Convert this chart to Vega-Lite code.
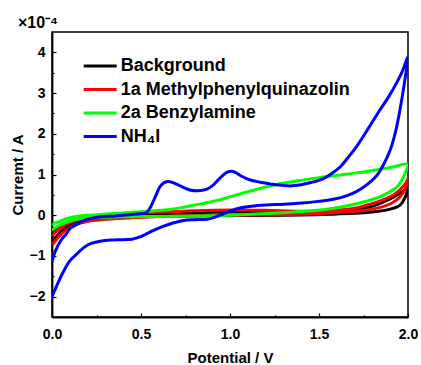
{
  "$schema": "https://vega.github.io/schema/vega-lite/v6.json",
  "width": 356,
  "height": 285,
  "autosize": "none",
  "padding": {"left": 52, "top": 32, "right": 13, "bottom": 48},
  "background": "white",
  "title": {"text": "×10⁻⁴", "anchor": "start", "frame": "group", "align": "right", "dx": 6, "offset": 1, "font": "Liberation Sans", "fontSize": 16, "fontWeight": "bold", "color": "black"},
  "config": {
    "view": {"stroke": "black", "strokeWidth": 1.5},
    "font": "Liberation Sans"
  },
  "datasets": {
    "cv": [
      {"s":"Background","k":1,"v":0.0,"i":-0.45},{"s":"Background","k":2,"v":0.05,"i":-0.3},{"s":"Background","k":3,"v":0.1,"i":-0.2},{"s":"Background","k":4,"v":0.2,"i":-0.1},{"s":"Background","k":5,"v":0.4,"i":-0.02},{"s":"Background","k":6,"v":0.7,"i":0.05},{"s":"Background","k":7,"v":1.0,"i":0.08},{"s":"Background","k":8,"v":1.3,"i":0.08},{"s":"Background","k":9,"v":1.55,"i":0.09},{"s":"Background","k":10,"v":1.7,"i":0.13},{"s":"Background","k":11,"v":1.8,"i":0.22},{"s":"Background","k":12,"v":1.86,"i":0.32},{"s":"Background","k":13,"v":1.92,"i":0.45},{"s":"Background","k":14,"v":1.97,"i":0.58},{"s":"Background","k":15,"v":2.0,"i":0.68},
      {"s":"Background","k":16,"v":1.985,"i":0.45},{"s":"Background","k":17,"v":1.955,"i":0.25},{"s":"Background","k":18,"v":1.9,"i":0.15},{"s":"Background","k":19,"v":1.8,"i":0.08},{"s":"Background","k":20,"v":1.6,"i":0.03},{"s":"Background","k":21,"v":1.3,"i":0.0},{"s":"Background","k":22,"v":1.0,"i":-0.01},{"s":"Background","k":23,"v":0.7,"i":-0.02},{"s":"Background","k":24,"v":0.45,"i":-0.05},{"s":"Background","k":25,"v":0.3,"i":-0.09},{"s":"Background","k":26,"v":0.2,"i":-0.14},{"s":"Background","k":27,"v":0.12,"i":-0.24},{"s":"Background","k":28,"v":0.07,"i":-0.34},{"s":"Background","k":29,"v":0.03,"i":-0.5},{"s":"Background","k":30,"v":0.0,"i":-0.68},

      {"s":"1a Methylphenylquinazolin","k":1,"v":0.0,"i":-0.5},{"s":"1a Methylphenylquinazolin","k":2,"v":0.03,"i":-0.38},{"s":"1a Methylphenylquinazolin","k":3,"v":0.07,"i":-0.25},{"s":"1a Methylphenylquinazolin","k":4,"v":0.12,"i":-0.15},{"s":"1a Methylphenylquinazolin","k":5,"v":0.2,"i":-0.08},{"s":"1a Methylphenylquinazolin","k":6,"v":0.3,"i":-0.04},{"s":"1a Methylphenylquinazolin","k":7,"v":0.45,"i":0.03},{"s":"1a Methylphenylquinazolin","k":8,"v":0.6,"i":0.07},{"s":"1a Methylphenylquinazolin","k":9,"v":0.8,"i":0.11},{"s":"1a Methylphenylquinazolin","k":10,"v":1.0,"i":0.13},{"s":"1a Methylphenylquinazolin","k":11,"v":1.2,"i":0.12},{"s":"1a Methylphenylquinazolin","k":12,"v":1.4,"i":0.1},{"s":"1a Methylphenylquinazolin","k":13,"v":1.55,"i":0.11},{"s":"1a Methylphenylquinazolin","k":14,"v":1.7,"i":0.17},{"s":"1a Methylphenylquinazolin","k":15,"v":1.77,"i":0.25},{"s":"1a Methylphenylquinazolin","k":16,"v":1.85,"i":0.36},{"s":"1a Methylphenylquinazolin","k":17,"v":1.92,"i":0.5},{"s":"1a Methylphenylquinazolin","k":18,"v":1.96,"i":0.65},{"s":"1a Methylphenylquinazolin","k":19,"v":1.99,"i":0.8},{"s":"1a Methylphenylquinazolin","k":20,"v":2.0,"i":0.9},
      {"s":"1a Methylphenylquinazolin","k":21,"v":1.985,"i":0.65},{"s":"1a Methylphenylquinazolin","k":22,"v":1.955,"i":0.45},{"s":"1a Methylphenylquinazolin","k":23,"v":1.91,"i":0.3},{"s":"1a Methylphenylquinazolin","k":24,"v":1.85,"i":0.2},{"s":"1a Methylphenylquinazolin","k":25,"v":1.77,"i":0.13},{"s":"1a Methylphenylquinazolin","k":26,"v":1.65,"i":0.08},{"s":"1a Methylphenylquinazolin","k":27,"v":1.5,"i":0.04},{"s":"1a Methylphenylquinazolin","k":28,"v":1.3,"i":0.01},{"s":"1a Methylphenylquinazolin","k":29,"v":1.0,"i":0.0},{"s":"1a Methylphenylquinazolin","k":30,"v":0.7,"i":-0.02},{"s":"1a Methylphenylquinazolin","k":31,"v":0.45,"i":-0.06},{"s":"1a Methylphenylquinazolin","k":32,"v":0.3,"i":-0.1},{"s":"1a Methylphenylquinazolin","k":33,"v":0.2,"i":-0.15},{"s":"1a Methylphenylquinazolin","k":34,"v":0.13,"i":-0.24},{"s":"1a Methylphenylquinazolin","k":35,"v":0.08,"i":-0.36},{"s":"1a Methylphenylquinazolin","k":36,"v":0.04,"i":-0.52},{"s":"1a Methylphenylquinazolin","k":37,"v":0.0,"i":-0.74},

      {"s":"2a Benzylamine","k":1,"v":0.0,"i":-0.24},{"s":"2a Benzylamine","k":2,"v":0.02,"i":-0.19},{"s":"2a Benzylamine","k":3,"v":0.045,"i":-0.15},{"s":"2a Benzylamine","k":4,"v":0.07,"i":-0.1},{"s":"2a Benzylamine","k":5,"v":0.1,"i":-0.06},{"s":"2a Benzylamine","k":6,"v":0.14,"i":-0.03},{"s":"2a Benzylamine","k":7,"v":0.21,"i":0.0},{"s":"2a Benzylamine","k":8,"v":0.27,"i":0.02},{"s":"2a Benzylamine","k":9,"v":0.35,"i":0.04},{"s":"2a Benzylamine","k":10,"v":0.44,"i":0.07},{"s":"2a Benzylamine","k":11,"v":0.513,"i":0.09},{"s":"2a Benzylamine","k":12,"v":0.58,"i":0.11},{"s":"2a Benzylamine","k":13,"v":0.66,"i":0.14},{"s":"2a Benzylamine","k":14,"v":0.72,"i":0.18},{"s":"2a Benzylamine","k":15,"v":0.8,"i":0.25},{"s":"2a Benzylamine","k":16,"v":0.85,"i":0.29},{"s":"2a Benzylamine","k":17,"v":0.95,"i":0.39},{"s":"2a Benzylamine","k":18,"v":1.037,"i":0.5},{"s":"2a Benzylamine","k":19,"v":1.12,"i":0.6},{"s":"2a Benzylamine","k":20,"v":1.225,"i":0.72},{"s":"2a Benzylamine","k":21,"v":1.3,"i":0.79},{"s":"2a Benzylamine","k":22,"v":1.39,"i":0.85},{"s":"2a Benzylamine","k":23,"v":1.524,"i":0.94},{"s":"2a Benzylamine","k":24,"v":1.62,"i":0.99},{"s":"2a Benzylamine","k":25,"v":1.71,"i":1.04},{"s":"2a Benzylamine","k":26,"v":1.8,"i":1.1},{"s":"2a Benzylamine","k":27,"v":1.9,"i":1.17},{"s":"2a Benzylamine","k":28,"v":2.0,"i":1.25},
      {"s":"2a Benzylamine","k":29,"v":1.985,"i":1.05},{"s":"2a Benzylamine","k":30,"v":1.965,"i":0.86},{"s":"2a Benzylamine","k":31,"v":1.94,"i":0.7},{"s":"2a Benzylamine","k":32,"v":1.9,"i":0.58},{"s":"2a Benzylamine","k":33,"v":1.84,"i":0.45},{"s":"2a Benzylamine","k":34,"v":1.77,"i":0.35},{"s":"2a Benzylamine","k":35,"v":1.68,"i":0.25},{"s":"2a Benzylamine","k":36,"v":1.58,"i":0.17},{"s":"2a Benzylamine","k":37,"v":1.49,"i":0.12},{"s":"2a Benzylamine","k":38,"v":1.39,"i":0.09},{"s":"2a Benzylamine","k":39,"v":1.3,"i":0.06},{"s":"2a Benzylamine","k":40,"v":1.2,"i":0.04},{"s":"2a Benzylamine","k":41,"v":1.0,"i":0.0},{"s":"2a Benzylamine","k":42,"v":0.8,"i":-0.02},{"s":"2a Benzylamine","k":43,"v":0.6,"i":-0.03},{"s":"2a Benzylamine","k":44,"v":0.4,"i":-0.04},{"s":"2a Benzylamine","k":45,"v":0.27,"i":-0.05},{"s":"2a Benzylamine","k":46,"v":0.2,"i":-0.07},{"s":"2a Benzylamine","k":47,"v":0.138,"i":-0.1},{"s":"2a Benzylamine","k":48,"v":0.09,"i":-0.16},{"s":"2a Benzylamine","k":49,"v":0.045,"i":-0.24},{"s":"2a Benzylamine","k":50,"v":0.02,"i":-0.3},{"s":"2a Benzylamine","k":51,"v":0.0,"i":-0.37},

      {"s":"NH₄I","k":1,"v":0.0,"i":-2.0},{"s":"NH₄I","k":2,"v":0.03,"i":-1.7},{"s":"NH₄I","k":3,"v":0.06,"i":-1.42},{"s":"NH₄I","k":4,"v":0.1,"i":-1.12},{"s":"NH₄I","k":5,"v":0.14,"i":-0.95},{"s":"NH₄I","k":6,"v":0.18,"i":-0.79},{"s":"NH₄I","k":7,"v":0.22,"i":-0.69},{"s":"NH₄I","k":8,"v":0.27,"i":-0.64},{"s":"NH₄I","k":9,"v":0.33,"i":-0.61},{"s":"NH₄I","k":10,"v":0.4,"i":-0.6},{"s":"NH₄I","k":11,"v":0.45,"i":-0.59},{"s":"NH₄I","k":12,"v":0.49,"i":-0.54},{"s":"NH₄I","k":13,"v":0.53,"i":-0.46},{"s":"NH₄I","k":14,"v":0.57,"i":-0.37},{"s":"NH₄I","k":15,"v":0.62,"i":-0.28},{"s":"NH₄I","k":16,"v":0.68,"i":-0.19},{"s":"NH₄I","k":17,"v":0.74,"i":-0.13},{"s":"NH₄I","k":18,"v":0.8,"i":-0.11},{"s":"NH₄I","k":19,"v":0.87,"i":-0.1},{"s":"NH₄I","k":20,"v":0.92,"i":-0.04},{"s":"NH₄I","k":21,"v":0.96,"i":0.03},{"s":"NH₄I","k":22,"v":1.0,"i":0.1},{"s":"NH₄I","k":23,"v":1.05,"i":0.17},{"s":"NH₄I","k":24,"v":1.12,"i":0.22},{"s":"NH₄I","k":25,"v":1.2,"i":0.25},{"s":"NH₄I","k":26,"v":1.3,"i":0.27},{"s":"NH₄I","k":27,"v":1.4,"i":0.3},{"s":"NH₄I","k":28,"v":1.5,"i":0.34},{"s":"NH₄I","k":29,"v":1.58,"i":0.39},{"s":"NH₄I","k":30,"v":1.65,"i":0.47},{"s":"NH₄I","k":31,"v":1.71,"i":0.58},{"s":"NH₄I","k":32,"v":1.76,"i":0.72},{"s":"NH₄I","k":33,"v":1.82,"i":0.95},{"s":"NH₄I","k":34,"v":1.86,"i":1.22},{"s":"NH₄I","k":35,"v":1.9,"i":1.6},{"s":"NH₄I","k":36,"v":1.93,"i":2.05},{"s":"NH₄I","k":37,"v":1.955,"i":2.59},{"s":"NH₄I","k":38,"v":1.98,"i":3.25},{"s":"NH₄I","k":39,"v":2.0,"i":3.9},
      {"s":"NH₄I","k":40,"v":1.97,"i":3.55},{"s":"NH₄I","k":41,"v":1.936,"i":3.25},{"s":"NH₄I","k":42,"v":1.89,"i":2.9},{"s":"NH₄I","k":43,"v":1.843,"i":2.59},{"s":"NH₄I","k":44,"v":1.78,"i":2.15},{"s":"NH₄I","k":45,"v":1.71,"i":1.68},{"s":"NH₄I","k":46,"v":1.66,"i":1.4},{"s":"NH₄I","k":47,"v":1.62,"i":1.19},{"s":"NH₄I","k":48,"v":1.57,"i":1.02},{"s":"NH₄I","k":49,"v":1.524,"i":0.9},{"s":"NH₄I","k":50,"v":1.47,"i":0.82},{"s":"NH₄I","k":51,"v":1.43,"i":0.78},{"s":"NH₄I","k":52,"v":1.39,"i":0.74},{"s":"NH₄I","k":53,"v":1.337,"i":0.72},{"s":"NH₄I","k":54,"v":1.27,"i":0.74},{"s":"NH₄I","k":55,"v":1.225,"i":0.77},{"s":"NH₄I","k":56,"v":1.17,"i":0.81},{"s":"NH₄I","k":57,"v":1.11,"i":0.87},{"s":"NH₄I","k":58,"v":1.06,"i":0.97},{"s":"NH₄I","k":59,"v":1.03,"i":1.05},{"s":"NH₄I","k":60,"v":1.01,"i":1.08},{"s":"NH₄I","k":61,"v":0.985,"i":1.06},{"s":"NH₄I","k":62,"v":0.96,"i":0.98},{"s":"NH₄I","k":63,"v":0.93,"i":0.85},{"s":"NH₄I","k":64,"v":0.9,"i":0.72},{"s":"NH₄I","k":65,"v":0.87,"i":0.64},{"s":"NH₄I","k":66,"v":0.82,"i":0.6},{"s":"NH₄I","k":67,"v":0.775,"i":0.62},{"s":"NH₄I","k":68,"v":0.72,"i":0.72},{"s":"NH₄I","k":69,"v":0.68,"i":0.8},{"s":"NH₄I","k":70,"v":0.654,"i":0.83},{"s":"NH₄I","k":71,"v":0.63,"i":0.8},{"s":"NH₄I","k":72,"v":0.607,"i":0.7},{"s":"NH₄I","k":73,"v":0.585,"i":0.5},{"s":"NH₄I","k":74,"v":0.57,"i":0.35},{"s":"NH₄I","k":75,"v":0.55,"i":0.17},{"s":"NH₄I","k":76,"v":0.532,"i":0.07},{"s":"NH₄I","k":77,"v":0.51,"i":0.04},{"s":"NH₄I","k":78,"v":0.45,"i":0.02},{"s":"NH₄I","k":79,"v":0.36,"i":-0.02},{"s":"NH₄I","k":80,"v":0.27,"i":-0.04},{"s":"NH₄I","k":81,"v":0.21,"i":-0.09},{"s":"NH₄I","k":82,"v":0.176,"i":-0.13},{"s":"NH₄I","k":83,"v":0.13,"i":-0.25},{"s":"NH₄I","k":84,"v":0.1,"i":-0.33},{"s":"NH₄I","k":85,"v":0.082,"i":-0.45},{"s":"NH₄I","k":86,"v":0.05,"i":-0.62},{"s":"NH₄I","k":87,"v":0.017,"i":-0.9},{"s":"NH₄I","k":88,"v":0.0,"i":-1.15}
    ]
  },
  "data": {"name": "cv"},
  "resolve": {"axis": {"x": "independent", "y": "independent"}},
  "layer": [
    {
      "mark": {"type": "point", "opacity": 0},
      "encoding": {
        "x": {
          "field": "v", "type": "quantitative",
          "scale": {"domain": [0, 2], "nice": false, "zero": false},
          "axis": {"orient": "bottom", "title": null, "labels": false, "domain": false, "grid": false,
            "values": [0.25, 0.75, 1.25, 1.75], "tickSize": -2, "tickColor": "black", "tickWidth": 1.2}
        },
        "y": {
          "field": "i", "type": "quantitative",
          "scale": {"domain": [-2.5, 4.5], "nice": false, "zero": false},
          "axis": {"orient": "left", "title": null, "labels": false, "domain": false, "grid": false,
            "values": [-1.5, -0.5, 0.5, 1.5, 2.5, 3.5], "tickSize": -2, "tickColor": "black", "tickWidth": 1.2}
        }
      }
    },
    {
      "mark": {"type": "line", "strokeWidth": 3, "interpolate": "catmull-rom", "clip": true},
      "encoding": {
        "x": {
          "field": "v", "type": "quantitative",
          "axis": {
            "orient": "bottom",
            "title": "Potential / V",
            "values": [0, 0.5, 1, 1.5, 2],
            "format": ".1f",
            "tickSize": -4, "tickColor": "black", "tickWidth": 1.2,
            "domainColor": "black", "domainWidth": 1.8,
            "grid": false,
            "labelFont": "Liberation Sans", "labelFontSize": 14, "labelFontWeight": "bold", "labelColor": "black",
            "labelPadding": 14, "labelFlush": false, "labelOverlap": false,
            "titleFont": "Liberation Sans", "titleFontSize": 15, "titleFontWeight": "bold", "titleColor": "black",
            "titlePadding": 9
          }
        },
        "y": {
          "field": "i", "type": "quantitative",
          "axis": {
            "orient": "left",
            "title": "Curremt / A",
            "values": [-2, -1, 0, 1, 2, 3, 4],
            "format": "d",
            "tickSize": -4, "tickColor": "black", "tickWidth": 1.2,
            "domainColor": "black", "domainWidth": 1.8,
            "grid": false,
            "labelFont": "Liberation Sans", "labelFontSize": 14, "labelFontWeight": "bold", "labelColor": "black",
            "labelPadding": 11, "labelFlush": false, "labelOverlap": false,
            "titleFont": "Liberation Sans", "titleFontSize": 15, "titleFontWeight": "bold", "titleColor": "black",
            "titlePadding": 4
          }
        },
        "color": {
          "field": "s", "type": "nominal",
          "scale": {"domain": ["Background", "1a Methylphenylquinazolin", "2a Benzylamine", "NH₄I"], "range": ["#000000", "#ff0000", "#00ff00", "#0000ff"]},
          "legend": {
            "title": null, "orient": "none", "legendX": 36.7, "legendY": 22.5,
            "symbolType": "M-1.65,0H1.65", "symbolSize": 400, "symbolStrokeWidth": 3,
            "labelFont": "Liberation Sans", "labelFontSize": 18, "labelFontWeight": "bold", "labelColor": "black",
            "labelOffset": 9, "rowPadding": 2.5, "padding": 0, "labelLimit": 400
          }
        },
        "order": {"field": "k", "type": "quantitative"}
      }
    }
  ]
}
